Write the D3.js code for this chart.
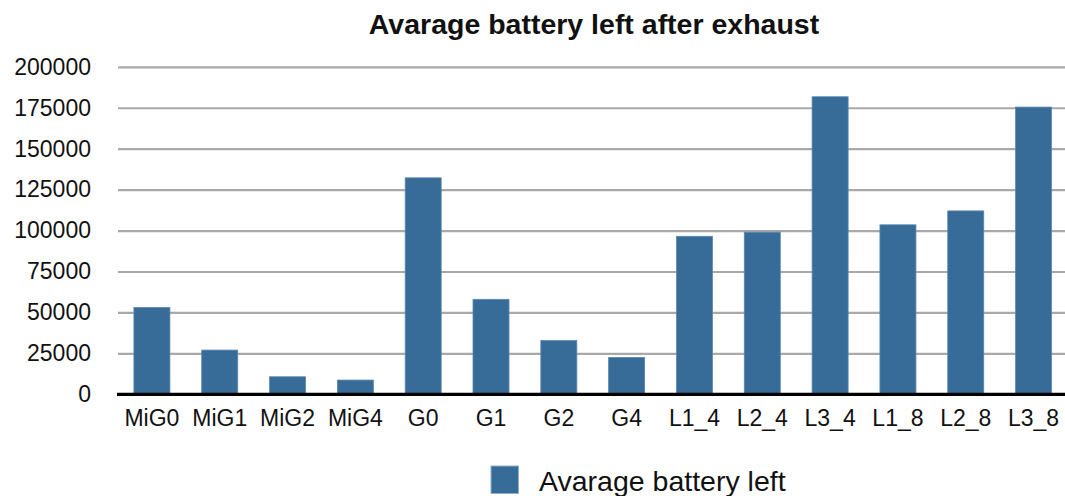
<!DOCTYPE html>
<html>
<head>
<meta charset="utf-8">
<script src="https://cdn.jsdelivr.net/npm/d3@7"></script>
<style>
  html, body { margin: 0; padding: 0; background: #ffffff; }
  svg { display: block; }
  text { font-family: "Liberation Sans", Arial, Helvetica, sans-serif; fill: #111; }
</style>
</head>
<body>
<svg id="chart" width="1065" height="496"></svg>
<script>
// Chart data
const categories = ["MiG0", "MiG1", "MiG2", "MiG4", "G0", "G1", "G2", "G4",
                    "L1_4", "L2_4", "L3_4", "L1_8", "L2_8", "L3_8"];
const batteryLeft = [53000, 27000, 10700, 8700, 132200, 58000, 32800, 22500,
                     96500, 99000, 181700, 103500, 112000, 175400];
const yTicks = [0, 25000, 50000, 75000, 100000, 125000, 150000, 175000, 200000];
const chartTitle = "Avarage battery left after exhaust";
const seriesName = "Avarage battery left";

const W = 1065, H = 496;
const plot = { left: 118, right: 1065, top: 66.8, bottom: 394.3 };
const barColor = "#376c99";

const svg = d3.select("#chart");

const x = d3.scaleBand()
  .domain(categories)
  .range([plot.left, plot.left + 67.82 * categories.length])
  .paddingInner(0.469)
  .paddingOuter(0.2345);

const y = d3.scaleLinear()
  .domain([0, 200000])
  .range([plot.bottom, plot.top]);

// Horizontal gridlines with value labels
const yAxis = d3.axisLeft(y)
  .tickValues(yTicks)
  .tickFormat(d3.format("d"))
  .tickSize(-(plot.right - plot.left))
  .tickPadding(27);

const gy = svg.append("g")
  .attr("transform", `translate(${plot.left},0)`)
  .call(yAxis);
gy.select(".domain").remove();
gy.selectAll(".tick line")
  .attr("stroke", "#a9a9a9")
  .attr("stroke-width", 2.2);
gy.selectAll(".tick text")
  .attr("font-size", 23)
  .attr("fill", "#111")
  .style("font-family", "'Liberation Sans', Arial, sans-serif");
gy.selectAll(".tick").filter(d => d === 0).select("line").remove();

// Bars
svg.append("g")
  .selectAll("rect")
  .data(categories.map((c, i) => ({ c, v: batteryLeft[i] })))
  .join("rect")
  .attr("x", d => x(d.c))
  .attr("width", x.bandwidth())
  .attr("y", d => y(d.v))
  .attr("height", d => y(0) - y(d.v))
  .attr("fill", barColor)
  .attr("stroke", "#5b88ae")
  .attr("stroke-width", 0.8);

// Baseline and category labels
const xAxis = d3.axisBottom(x).tickSize(0).tickPadding(15);
const gx = svg.append("g")
  .attr("transform", `translate(0,${y(0)})`)
  .call(xAxis);
gx.select(".domain").remove();
gx.append("line")
  .attr("x1", plot.left - 1).attr("x2", plot.right)
  .attr("y1", 0).attr("y2", 0)
  .attr("stroke", "#000").attr("stroke-width", 3.2);
gx.selectAll(".tick text")
  .attr("font-size", 23)
  .attr("fill", "#111")
  .style("font-family", "'Liberation Sans', Arial, sans-serif");

// Title
svg.append("text")
  .attr("x", 594)
  .attr("y", 33.5)
  .attr("text-anchor", "middle")
  .attr("font-size", 28.5)
  .attr("font-weight", "bold")
  .text(chartTitle);

// Legend
const legend = svg.append("g");
legend.append("rect")
  .attr("x", 491).attr("y", 466)
  .attr("width", 27.5).attr("height", 27.5)
  .attr("fill", barColor)
  .attr("stroke", "#8fb0cc").attr("stroke-width", 1);
legend.append("text")
  .attr("x", 539).attr("y", 491)
  .attr("font-size", 28.5)
  .text(seriesName);
</script>
</body>
</html>
